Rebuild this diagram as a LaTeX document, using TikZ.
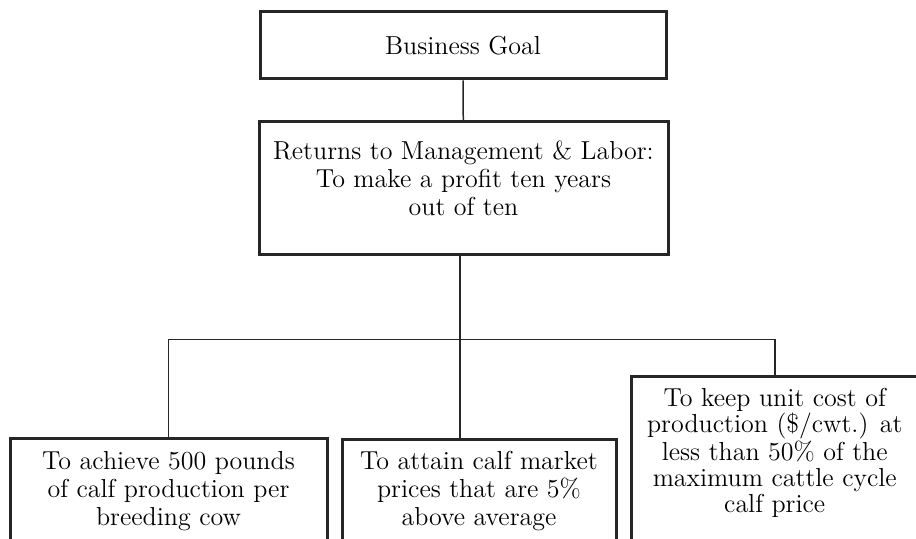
\documentclass[tikz,border=0pt]{standalone}
\usepackage{tikz}
\usetikzlibrary{positioning}

\begin{document}
\begin{tikzpicture}[x=0.5pt,y=-0.5pt,
  goalbox/.style={draw=black!85, line width=1.5pt, align=center, inner ysep=6pt,
    font=\fontsize{13}{14}\selectfont},
  link/.style={draw=black!85, line width=0.75pt}]
  % Frame
  \useasboundingbox (0,0) rectangle (916,539);
  \clip (0,0) rectangle (916,539);

  % Goal and returns
  \node[goalbox, minimum width=203pt, minimum height=33.5pt] (goal) at (463,45.5) {Business Goal};
  \node[goalbox, minimum width=204.5pt, minimum height=66.5pt] (returns) at (463.5,188.5)
    {Returns to Management \& Labor:\\ To make a profit ten years\\ out of ten\\[-4pt]};

  % Objectives (cut off at the bottom)
  \node[goalbox, anchor=north, minimum width=158.5pt, text depth=70pt] (achieve) at (168.5,437.5)
    {To achieve 500 pounds\\ of calf production per\\ breeding cow};
  \node[goalbox, anchor=north, minimum width=137pt, text depth=70pt] (attain) at (479,438)
    {To attain calf market\\ prices that are 5\%\\ above average};
  \node[goalbox, anchor=north, minimum width=143.25pt, text depth=70pt,
    font=\fontsize{13}{13}\selectfont] (keep) at (774.75,375)
    {To keep unit cost of\\ production (\$/cwt.) at\\ less than 50\% of the\\ maximum cattle cycle\\ calf price};

  % Connectors
  \coordinate (bus) at (460,339.5);
  \draw[link] (goal) -- (returns);
  \draw[link] (returns.south -| bus) -- (bus);
  \draw[link] (achieve.north) |- (bus) -| (keep.north);
  \draw[link] (bus) -- (bus |- attain.north);
\end{tikzpicture}
\end{document}
